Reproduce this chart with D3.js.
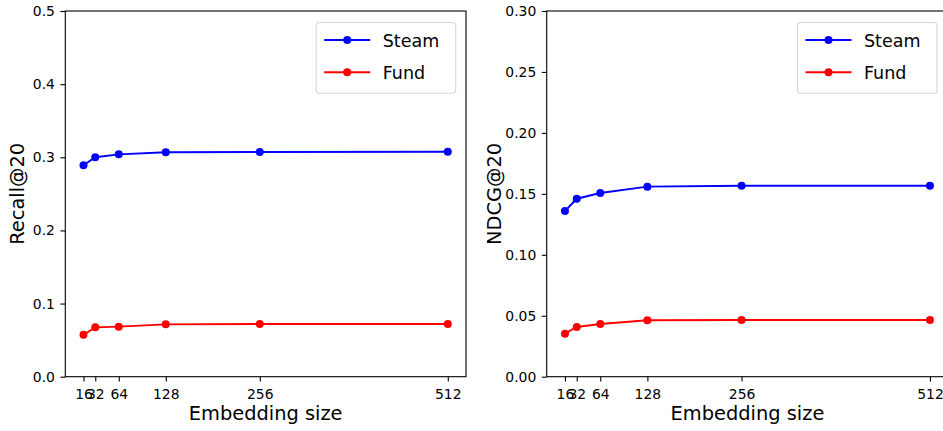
<!DOCTYPE html>
<html>
<head>
<meta charset="utf-8">
<script src="https://cdn.jsdelivr.net/npm/d3@7"></script>
<style>
  body { margin: 0; background: #fff; }
  svg { display: block; font-family: "DejaVu Sans", sans-serif; }
</style>
</head>
<body>
<div id="chart"></div>
<script>
// Data
const embeddingSizes = [16, 32, 64, 128, 256, 512];
const recallSteam = [0.289, 0.300, 0.304, 0.3068, 0.3072, 0.3076];
const recallFund = [0.0574, 0.0675, 0.0684, 0.0716, 0.072, 0.072];
const ndcgSteam = [0.1359, 0.146, 0.1507, 0.1559, 0.1567, 0.1567];
const ndcgFund = [0.0353, 0.0408, 0.0432, 0.0463, 0.0465, 0.0465];
const recallTicks = [0.0, 0.1, 0.2, 0.3, 0.4, 0.5];
const ndcgTicks = [0.00, 0.05, 0.10, 0.15, 0.20, 0.25, 0.30];
const seriesNames = ["Steam", "Fund"];
const seriesColors = ["#0000ff", "#ff0000"];

const width = 943, height = 431;

const svg = d3.select("#chart").append("svg")
  .attr("width", width)
  .attr("height", height);

// matplotlib-like 5% margin on the x data range
const xPad = (512 - 16) * 0.05;

function drawPanel(cfg) {
  const x = d3.scaleLinear()
    .domain([16 - xPad, 512 + xPad])
    .range([cfg.left, cfg.right]);
  const y = d3.scaleLinear()
    .domain(cfg.yDomain)
    .range([cfg.bottom, cfg.top]);

  const g = svg.append("g");

  // lines + markers
  cfg.series.forEach((vals, i) => {
    const pts = embeddingSizes.map((s, j) => [s, vals[j]]);
    g.append("path")
      .datum(pts)
      .attr("fill", "none")
      .attr("stroke", seriesColors[i])
      .attr("stroke-width", 1.9)
      .attr("d", d3.line().x(d => x(d[0])).y(d => y(d[1])));
    g.selectAll(null)
      .data(pts)
      .enter()
      .append("circle")
      .attr("cx", d => x(d[0]))
      .attr("cy", d => y(d[1]))
      .attr("r", 4)
      .attr("fill", seriesColors[i]);
  });

  // axes
  const xAxis = g.append("g")
    .attr("transform", `translate(0,${cfg.bottom})`)
    .call(d3.axisBottom(x).tickValues(embeddingSizes).tickSize(4.9).tickPadding(7.3).tickSizeOuter(0));
  const yAxis = g.append("g")
    .attr("transform", `translate(${cfg.left},0)`)
    .call(d3.axisLeft(y).tickValues(cfg.yTicks).tickFormat(d3.format(cfg.yFormat)).tickSize(4.9).tickPadding(5.5).tickSizeOuter(0));
  [xAxis, yAxis].forEach(a => {
    a.select(".domain").remove();
    a.selectAll("line").attr("stroke", "#000").attr("stroke-width", 1.1);
    a.selectAll("text")
      .attr("font-family", "DejaVu Sans, sans-serif")
      .attr("font-size", "13.9px")
      .attr("fill", "#000");
  });

  // frame (spines)
  g.append("rect")
    .attr("x", cfg.left)
    .attr("y", cfg.top)
    .attr("width", cfg.right - cfg.left)
    .attr("height", cfg.bottom - cfg.top)
    .attr("fill", "none")
    .attr("stroke", "#000")
    .attr("stroke-width", 1.1);

  // axis labels
  g.append("text")
    .attr("x", (cfg.left + cfg.right) / 2)
    .attr("y", 419.5)
    .attr("text-anchor", "middle")
    .attr("font-size", "19.4px")
    .text("Embedding size");
  g.append("text")
    .attr("transform", `translate(${cfg.yLabelX},${(cfg.top + cfg.bottom) / 2}) rotate(-90)`)
    .attr("text-anchor", "middle")
    .attr("font-size", "19.4px")
    .text(cfg.yLabel);

  // legend
  const lg = g.append("g").attr("transform", `translate(${cfg.legendX},22.5)`);
  lg.append("rect")
    .attr("width", 139.5)
    .attr("height", 70.8)
    .attr("rx", 3)
    .attr("fill", "#fff")
    .attr("fill-opacity", 0.8)
    .attr("stroke", "#d6d6d6")
    .attr("stroke-width", 1.1);
  seriesNames.forEach((name, i) => {
    const ly = 17.5 + i * 32.3;
    lg.append("line")
      .attr("x1", 8).attr("x2", 54)
      .attr("y1", ly).attr("y2", ly)
      .attr("stroke", seriesColors[i])
      .attr("stroke-width", 1.9);
    lg.append("circle")
      .attr("cx", 31).attr("cy", ly)
      .attr("r", 4)
      .attr("fill", seriesColors[i]);
    lg.append("text")
      .attr("x", 66.5)
      .attr("y", ly + 6.5)
      .attr("font-size", "17.5px")
      .text(name);
  });
}

drawPanel({
  left: 65.3, right: 466, top: 11, bottom: 376.7,
  yDomain: [0, 0.5], yTicks: recallTicks, yFormat: ".1f",
  series: [recallSteam, recallFund],
  yLabel: "Recall@20", yLabelX: 23.5,
  legendX: 316.2
});

drawPanel({
  left: 546.7, right: 948.2, top: 11, bottom: 376.7,
  yDomain: [0, 0.3], yTicks: ndcgTicks, yFormat: ".2f",
  series: [ndcgSteam, ndcgFund],
  yLabel: "NDCG@20", yLabelX: 501,
  legendX: 797.5
});
</script>
</body>
</html>
